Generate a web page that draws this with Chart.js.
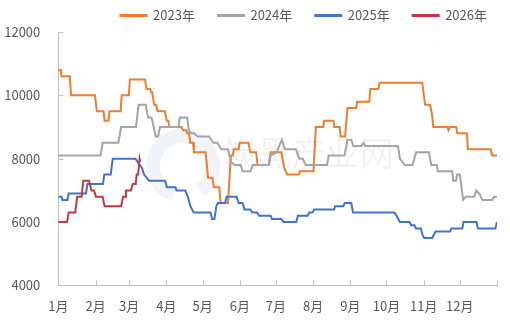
<!DOCTYPE html>
<html>
<head>
<meta charset="utf-8">
<script src="https://cdn.jsdelivr.net/npm/chart.js@4/dist/chart.umd.min.js"></script>
<style>
    html, body { margin: 0; padding: 0; background: #ffffff; }
    #wrap { width: 510px; height: 322px; }
</style>
</head>
<body>
<div id="wrap"><canvas id="myChart" width="510" height="322"></canvas></div>
<script>
// x = day of year, y = price
var monthLabels = ["1月", "2月", "3月", "4月", "5月", "6月", "7月", "8月", "9月", "10月", "11月", "12月", ""];
var monthStartDays = [0, 31, 59, 90, 120, 151, 181, 212, 243, 273, 304, 334, 365];
var yTicks = [4000, 6000, 8000, 10000, 12000];
var seriesNames = ["2023年", "2024年", "2025年", "2026年"];
var seriesColors = ["#ED7D31", "#A5A5A5", "#4472C4", "#BE3A42"];

var days2023 = [0,2.2,2.6,9.5,10.7,30.5,32.1,37.7,38.5,41.8,42.6,51.9,52.7,58.7,59.6,72.2,73.3,76.5,77.3,78.1,79.8,81.4,82.6,88.6,90.2,91.5,92.3,102.4,104,106.4,107.2,108.8,109.7,112.1,112.9,122.6,124.6,128.2,129.5,133.9,135.1,141.2,143.6,145.2,146,150,150.9,158.2,159.8,164.6,165.8,175.1,176.7,185.6,188,190.5,200.2,201,212.3,214.3,220.4,221.2,228.9,229.7,234.1,234.9,238.6,240.6,247.8,248.6,258.8,259.6,266.4,267.2,302.8,305.2,309.3,310.9,312.1,323.8,324.6,325.8,331.1,331.9,340,340.8,359.8,361,365];
var price2023 = [10800,10800,10600,10600,10000,10000,9500,9500,9200,9200,9500,9500,10000,10000,10500,10500,10200,10200,10100,10100,9700,9700,9500,9500,9200,9200,9000,9000,8900,8900,8800,8800,8500,8500,8200,8200,7400,7400,7100,7100,6600,6600,8100,8100,8300,8300,8500,8500,8200,8200,7800,7800,8200,8200,7700,7500,7500,7600,7600,9000,9000,9200,9200,9000,9000,8700,8700,9600,9600,9800,9800,10200,10200,10400,10400,9700,9700,9400,9000,9000,8900,9000,9000,8800,8800,8300,8300,8100,8100];

var days2024 = [0,35.1,36.9,49.9,52.3,64.6,66.8,72.7,74.7,77.6,79.4,81,83,84.6,100,101.2,107.2,108.6,110.5,112.9,115.9,125.3,129.1,132.3,133.9,135.5,141.2,143.6,146.8,151.7,153.3,159.8,161.8,175.1,176.7,181.6,186,188.4,197.7,200.6,203.4,205.8,223.6,225,238.1,240.6,243.8,245.4,252.3,253.9,255.5,282.6,284.2,288.2,294.7,297.7,308.4,310.3,314.9,315.7,327.8,328.6,330.8,331.9,334.1,336.8,339,346.2,347.6,350.2,352.9,361,362.6,365];
var price2024 = [8100,8100,8500,8500,9000,9000,9700,9700,9300,9300,9000,8700,8700,9000,9000,9300,9300,8900,8800,8800,8700,8700,8500,8500,8400,8300,8300,7900,7800,7800,7600,7600,7800,7800,8100,8200,8600,8300,8300,8000,8000,7800,7800,8100,8100,8600,8600,8400,8400,8500,8400,8400,8000,7800,7800,8200,8200,7800,7800,7600,7600,7300,7300,7500,7500,6700,6800,6800,7000,6900,6700,6700,6800,6800];

var days2025 = [0,2.7,3.4,7.6,8.6,23,24.2,37.2,38.3,43.6,45.3,64.2,66,67.9,69.7,71.4,75.5,88.9,90.3,97.5,98.3,105.6,107.8,109.9,112.6,126.6,128,129.9,131.5,132.7,138.8,140,148.4,150.1,153.3,154.9,159.8,161.4,165.4,167,176.7,177.8,185.6,187.2,198,199.4,207.4,208.8,211.5,212.9,229.5,230.3,237.1,238.4,243.8,245.2,279.6,281.5,284.2,292.3,293.6,296.3,297.7,301.7,303,304.4,311.1,313.9,326,327,336.2,337.1,348,349.1,363.6,365];
var price2025 = [6800,6800,6700,6700,6900,6900,7200,7200,7500,7500,8000,8000,7900,7800,7700,7500,7300,7300,7100,7100,7000,7000,6800,6500,6300,6300,6100,6100,6500,6600,6600,6800,6800,6600,6600,6400,6400,6300,6300,6200,6200,6100,6100,6000,6000,6200,6200,6300,6300,6400,6400,6500,6500,6600,6600,6300,6300,6200,6000,6000,5900,5900,5800,5800,5600,5500,5500,5700,5700,5800,5800,6000,6000,5800,5800,6000];

var days2026 = [0,7.3,8.6,14.1,15.7,19.4,20.8,25.6,27.5,29.7,31.3,36.9,38.5,52.3,53.9,55.5,56.3,60.4,62,64.4,65.2,66.4,67.6,68.2];
var price2026 = [6000,6000,6300,6300,6800,6800,7300,7300,7000,7000,6800,6800,6500,6500,6800,6800,7000,7000,7200,7200,7500,7500,8000,7900];

var allDays = [days2023, days2024, days2025, days2026];
var allPrices = [price2023, price2024, price2025, price2026];

var FONT = '"Microsoft YaHei", "Noto Sans CJK SC", sans-serif';
var TEXT_COLOR = "#595959";
var AXIS_COLOR = "#BFBFBF";

function toPoints(days, prices)
{
    var pts = [];
    for (var i = 0; i < days.length; i++) {
        pts.push({ x: days[i], y: prices[i] });
    }
    return pts;
}

function buildDatasets()
{
    var ds = [];
    for (var i = 0; i < seriesNames.length; i++) {
        ds.push({
            label: seriesNames[i],
            data: toPoints(allDays[i], allPrices[i]),
            borderColor: seriesColors[i],
            backgroundColor: seriesColors[i],
            borderWidth: 2,
            pointRadius: 0,
            tension: 0,
            fill: false,
            order: seriesNames.length - i   // later years on top
        });
    }
    return ds;
}

// faint watermark + short inward tick marks
var decoPlugin = {
    id: "deco",
    beforeDatasetsDraw: function (chart) {
        var ctx = chart.ctx;
        ctx.save();
        ctx.strokeStyle = "rgba(205,220,232,0.3)";
        ctx.lineWidth = 14;
        ctx.beginPath();
        ctx.arc(183, 166, 30, 0.6 * Math.PI, 2.3 * Math.PI);
        ctx.stroke();
        ctx.fillStyle = "rgba(0,0,0,0.05)";
        ctx.font = "34px " + FONT;
        ctx.textBaseline = "middle";
        ctx.textAlign = "left";
        ctx.fillText("炭黑产业网", 224, 153);

        var xs = chart.scales.x, ys = chart.scales.y;
        ctx.strokeStyle = AXIS_COLOR;
        ctx.lineWidth = 1;
        ctx.beginPath();
        for (var i = 1; i < xs.ticks.length; i++) {
            var px = Math.round(xs.getPixelForValue(xs.ticks[i].value)) + 0.5;
            ctx.moveTo(px, ys.bottom);
            ctx.lineTo(px, ys.bottom - 5);
        }
        for (var j = 1; j < ys.ticks.length; j++) {
            var py = Math.round(ys.getPixelForValue(ys.ticks[j].value)) + 0.5;
            ctx.moveTo(xs.left, py);
            ctx.lineTo(xs.left + 5, py);
        }
        ctx.stroke();
        ctx.restore();
    }
};

function drawChart()
{
    var ctx = document.getElementById("myChart").getContext("2d");
    var config = {
        type: "line",
        data: { datasets: buildDatasets() },
        options: {
            responsive: false,
            animation: false,
            layout: { padding: { left: 3, right: 0, top: -14, bottom: -5 } },
            plugins: {
                tooltip: { enabled: false },
                legend: {
                    position: "top",
                    align: "end",
                    labels: {
                        boxWidth: 26,
                        boxHeight: 1,
                        padding: 23,
                        color: TEXT_COLOR,
                        font: { family: FONT, size: 13 },
                        sort: function (a, b) { return a.datasetIndex - b.datasetIndex; }
                    }
                }
            },
            scales: {
                x: {
                    type: "linear",
                    min: 0,
                    max: 365,
                    afterBuildTicks: function (axis) {
                        axis.ticks = monthStartDays.map(function (d) { return { value: d }; });
                    },
                    ticks: {
                        autoSkip: false,
                        maxRotation: 0,
                        padding: 13,
                        color: TEXT_COLOR,
                        font: { family: FONT, size: 13 },
                        callback: function (value) {
                            var k = monthStartDays.indexOf(value);
                            return k >= 0 ? monthLabels[k] : "";
                        }
                    },
                    grid: { drawOnChartArea: false, drawTicks: false },
                    border: { display: true, color: AXIS_COLOR, width: 1 }
                },
                y: {
                    min: yTicks[0],
                    max: yTicks[yTicks.length - 1],
                    afterBuildTicks: function (axis) {
                        axis.ticks = yTicks.map(function (v) { return { value: v }; });
                    },
                    afterFit: function (axis) {
                        axis.width = 55.3;
                    },
                    ticks: {
                        padding: 18,
                        color: TEXT_COLOR,
                        font: { family: FONT, size: 13 },
                        callback: function (value) { return String(value); }
                    },
                    grid: { drawOnChartArea: false, drawTicks: false },
                    border: { display: true, color: AXIS_COLOR, width: 1 }
                }
            }
        },
        plugins: [decoPlugin]
    };
    var chart = new Chart(ctx, config);
}
drawChart();
</script>
</body>
</html>
